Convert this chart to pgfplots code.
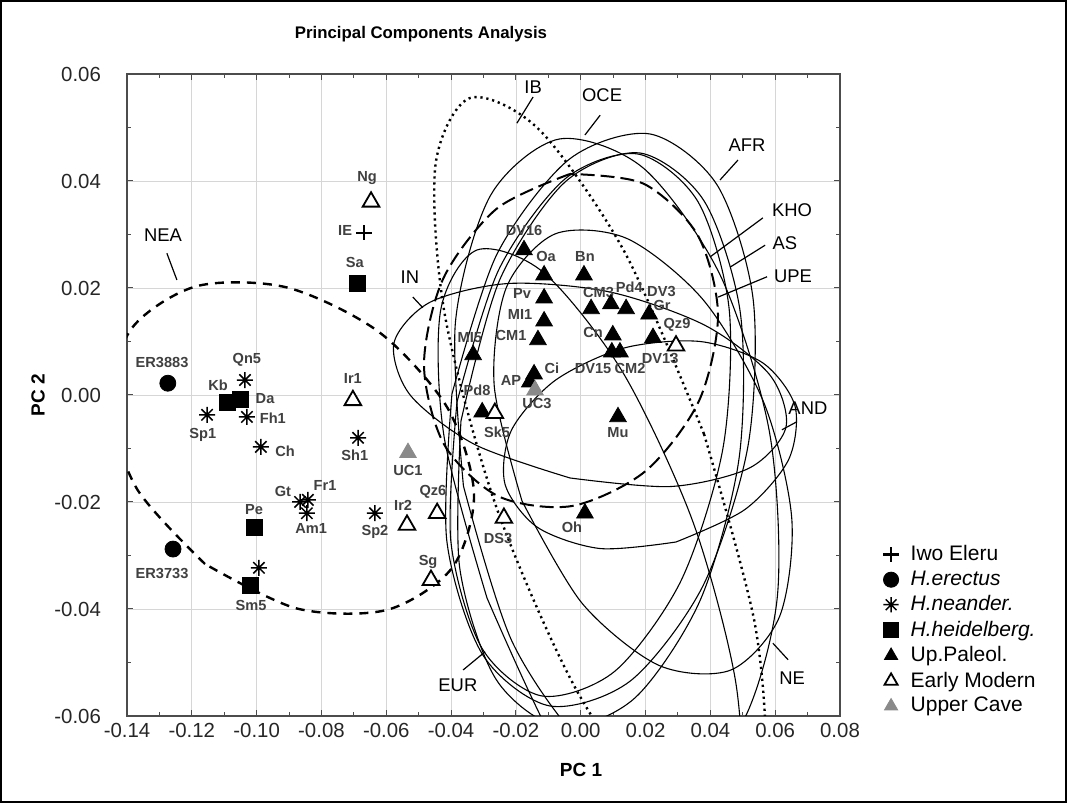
\documentclass[border=0pt]{standalone}
\usepackage{pgfplots}
\pgfplotsset{compat=1.18}
\usepackage{fontspec}
\setmainfont{Liberation Sans}
\definecolor{ucgray}{HTML}{8A8A8A}
\pgfdeclareplotmark{ast8}{%
  \pgfpathmoveto{\pgfqpoint{-\pgfplotmarksize}{0pt}}%
  \pgfpathlineto{\pgfqpoint{\pgfplotmarksize}{0pt}}%
  \pgfpathmoveto{\pgfqpoint{0pt}{-\pgfplotmarksize}}%
  \pgfpathlineto{\pgfqpoint{0pt}{\pgfplotmarksize}}%
  \pgfpathmoveto{\pgfqpoint{-.707\pgfplotmarksize}{-.707\pgfplotmarksize}}%
  \pgfpathlineto{\pgfqpoint{.707\pgfplotmarksize}{.707\pgfplotmarksize}}%
  \pgfpathmoveto{\pgfqpoint{-.707\pgfplotmarksize}{.707\pgfplotmarksize}}%
  \pgfpathlineto{\pgfqpoint{.707\pgfplotmarksize}{-.707\pgfplotmarksize}}%
  \pgfusepathqstroke}
\tikzset{
  ell/.style={black, line width=0.55pt, smooth, mark=none},
  lead/.style={black, line width=0.6pt, mark=none},
  lab/.style={font=\fontsize{7.3}{8}\selectfont\bfseries, text=black!75, inner sep=0.5pt},
  reg/.style={font=\fontsize{9.2}{10}\selectfont, inner sep=0.5pt},
}
\begin{document}
\begin{tikzpicture}
\draw[line width=1.1pt] (0.55pt,0.55pt) rectangle (532.95pt,400.95pt);
\begin{axis}[
  at={(63.5pt,43.5pt)}, anchor=south west,
  scale only axis, width=356.5pt, height=321pt,
  xmin=-0.14, xmax=0.08, ymin=-0.06, ymax=0.06,
  scaled ticks=false,
  xtick={-0.14,-0.12,-0.1,-0.08,-0.06,-0.04,-0.02,0,0.02,0.04,0.06,0.08},
  xticklabels={-0.14,-0.12,-0.10,-0.08,-0.06,-0.04,-0.02,0.00,0.02,0.04,0.06,0.08},
  ytick={-0.06,-0.04,-0.02,0,0.02,0.04,0.06},
  yticklabels={-0.06,-0.04,-0.02,0.00,0.02,0.04,0.06},
  minor x tick num=1, minor y tick num=1,
  tick align=inside, major tick length=3pt, minor tick length=2pt,
  tick style={black!70, line width=0.5pt},
  grid=major, major grid style={black!16, line width=0.4pt},
  axis line style={black!70, line width=0.7pt},
  ticklabel style={font=\fontsize{10.2}{12}\selectfont, text=black!85},
  yticklabel style={xshift=-9.5pt},
  legend style={at={(1.052,0.277)}, anchor=north west, draw=none, fill=none,
    font=\fontsize{10.5}{12}\selectfont, row sep=0.6pt, column sep=4.5pt, nodes={inner sep=1.5pt}},
  legend image post style={mark size=3.8pt},
  legend cell align=left,
]
% ---- ellipses ----
% IB (dotted)
\addplot[ell, forget plot, line width=1.2pt, dash pattern=on 1.1pt off 1.9pt] coordinates {(0.03803,-0.00729)(0.05379,-0.04296)(0.05673,-0.07086)(0.04605,-0.08355)(0.02463,-0.0776)(-0.00179,-0.05462)(-0.02615,-0.02075)(-0.04191,0.01492)(-0.04485,0.04282)(-0.03417,0.05551)(-0.01275,0.04956)(0.01367,0.02658)(0.03803,-0.00729)};
% UPE (long dash)
\addplot[ell, forget plot, line width=1pt, dash pattern=on 7pt off 3pt] coordinates {(-0.00331,0.04131)(-0.02595,0.03481)(-0.04243,0.02175)(-0.04836,0.00561)(-0.04213,-0.00927)(-0.02541,-0.01893)(-0.00269,-0.02075)(0.01995,-0.01425)(0.03643,-0.00119)(0.04236,0.01495)(0.03613,0.02983)(0.01941,0.03949)(-0.00331,0.04131)};
% NEA (dashed)
\addplot[ell, forget plot, line width=1.2pt, dash pattern=on 4.5pt off 3.5pt] coordinates {(-0.11593,-0.03159)(-0.13702,-0.01746)(-0.14526,-0.00133)(-0.13846,0.01252)(-0.11842,0.02035)(-0.09054,0.02008)(-0.06225,0.01177)(-0.04116,-0.00236)(-0.03292,-0.01849)(-0.03972,-0.03234)(-0.05976,-0.04017)(-0.08764,-0.0399)(-0.11593,-0.03159)};
% IN
\addplot[ell, forget plot] coordinates {(-0.00331,-0.01551)(-0.03272,-0.00925)(-0.05261,-0.00002)(-0.05762,0.00972)(-0.04643,0.01736)(-0.02204,0.02085)(0.00903,0.01925)(0.03844,0.01299)(0.05833,0.00376)(0.06334,-0.00598)(0.05215,-0.01362)(0.02776,-0.01711)(-0.00331,-0.01551)};
% AND
\addplot[ell, forget plot] coordinates {(0.02939,-0.02748)(0.00595,-0.0287)(-0.01336,-0.02473)(-0.02337,-0.01664)(-0.02138,-0.00659)(-0.00795,0.0027)(0.01335,0.00878)(0.03679,0.01)(0.0561,0.00603)(0.06611,-0.00206)(0.06412,-0.01211)(0.05069,-0.0214)(0.02939,-0.02748)};
% NE
\addplot[ell, forget plot] coordinates {(-0.01812,-0.01981)(-0.0267,0.0018)(-0.02297,0.02006)(-0.00794,0.0301)(0.01437,0.02922)(0.03796,0.01766)(0.05654,-0.00149)(0.06512,-0.0231)(0.06139,-0.04136)(0.04636,-0.0514)(0.02405,-0.05052)(0.00046,-0.03896)(-0.01812,-0.01981)};
% EUR
\addplot[ell, forget plot] coordinates {(-0.02892,-0.03794)(-0.0421,-0.00802)(-0.04323,0.01579)(-0.03201,0.0271)(-0.01145,0.02289)(0.01294,0.00428)(0.03464,-0.02374)(0.04782,-0.05366)(0.04895,-0.07747)(0.03773,-0.08878)(0.01717,-0.08457)(-0.00722,-0.06596)(-0.02892,-0.03794)};
% OCE
\addplot[ell, forget plot] coordinates {(-0.03619,-0.01701)(-0.03866,0.01358)(-0.02782,0.03731)(-0.00657,0.04785)(0.0194,0.04237)(0.0431,0.02232)(0.05823,-0.00691)(0.0607,-0.0375)(0.04986,-0.06123)(0.02861,-0.07177)(0.00264,-0.06629)(-0.02106,-0.04624)(-0.03619,-0.01701)};
% AFR
\addplot[ell, forget plot] coordinates {(-0.03973,0.00019)(-0.02589,0.02627)(-0.00354,0.04406)(0.02137,0.04879)(0.04214,0.0392)(0.05321,0.01785)(0.05161,-0.00953)(0.03777,-0.03561)(0.01542,-0.0534)(-0.00949,-0.05813)(-0.03026,-0.04854)(-0.04133,-0.02719)(-0.03973,0.00019)};
% KHO
\addplot[ell, forget plot] coordinates {(-0.03818,-0.00131)(-0.02527,0.02344)(-0.00483,0.0404)(0.01767,0.04504)(0.03621,0.0361)(0.04581,0.016)(0.0439,-0.00991)(0.03099,-0.03466)(0.01055,-0.05162)(-0.01195,-0.05626)(-0.03049,-0.04732)(-0.04009,-0.02722)(-0.03818,-0.00131)};
% AS
\addplot[ell, forget plot] coordinates {(-0.03695,-0.00486)(-0.02503,0.02148)(-0.00482,0.03982)(0.01828,0.04523)(0.03808,0.03626)(0.04925,0.01534)(0.04883,-0.01196)(0.03691,-0.0383)(0.0167,-0.05664)(-0.0064,-0.06205)(-0.0262,-0.05308)(-0.03737,-0.03216)(-0.03695,-0.00486)};
% ---- leader lines ----
\addplot[lead, forget plot] coordinates {(-0.0147,0.0557)(-0.0197,0.0508)};
\addplot[lead, forget plot] coordinates {(0.0060,0.0523)(0.0013,0.0486)};
\addplot[lead, forget plot] coordinates {(0.0485,0.0439)(0.0430,0.0402)};
\addplot[lead, forget plot] coordinates {(0.0562,0.0331)(0.0399,0.0258)};
\addplot[lead, forget plot] coordinates {(0.0569,0.0280)(0.0461,0.0239)};
\addplot[lead, forget plot] coordinates {(0.0575,0.0221)(0.0424,0.0183)};
\addplot[lead, forget plot] coordinates {(-0.0518,0.0183)(-0.0487,0.0163)};
\addplot[lead, forget plot] coordinates {(0.0667,-0.0050)(0.0621,-0.0065)};
\addplot[lead, forget plot] coordinates {(0.0640,-0.0495)(0.0593,-0.0464)};
\addplot[lead, forget plot] coordinates {(-0.0363,-0.0514)(-0.0295,-0.0480)};
\addplot[lead, forget plot] coordinates {(-0.1277,0.0265)(-0.1246,0.0215)};
% ---- specimens ----
\addplot[only marks, mark=+, mark size=3.8pt, mark options={line width=1.3pt}, black] coordinates {(-0.0669,0.0303)};
\addlegendentry{Iwo Eleru}
\addplot[only marks, mark=*, mark size=4pt, black] coordinates {(-0.1274,0.0022)(-0.1258,-0.0288)};
\addlegendentry{\textit{H.erectus}}
\addplot[only marks, mark=ast8, mark size=4pt, mark options={line width=0.75pt}, black] coordinates {(-0.1036,0.0028)(-0.1153,-0.0037)(-0.1030,-0.0041)(-0.0987,-0.0097)(-0.0687,-0.0080)(-0.0866,-0.0200)(-0.0842,-0.0196)(-0.0845,-0.0221)(-0.0635,-0.0221)(-0.0993,-0.0323)};
\addlegendentry{\textit{H.neander.}}
\addplot[only marks, mark=square*, mark size=4pt, black] coordinates {(-0.069,0.0209)(-0.109,-0.0013)(-0.105,-0.0008)(-0.1008,-0.0247)(-0.1020,-0.0355)};
\addlegendentry{\textit{H.heidelberg.}}
\addplot[only marks, mark=triangle*, mark size=4.8pt, black] coordinates {(-0.0175,0.0271)(-0.0113,0.0224)(0.0010,0.0224)(-0.0113,0.0181)(-0.0113,0.0138)(-0.0132,0.0103)(0.0032,0.0161)(0.0093,0.0170)(0.0140,0.0161)(0.0211,0.0151)(0.0223,0.0107)(0.0099,0.0112)(0.0096,0.0080)(0.0121,0.0080)(-0.0332,0.0075)(-0.0144,0.0039)(-0.0157,0.0024)(-0.0304,-0.0032)(0.0115,-0.0041)(0.0013,-0.0221)};
\addlegendentry{Up.Paleol.}
\addplot[only marks, mark=triangle*, mark size=4.8pt, mark options={fill=white, draw=black, line width=0.9pt}] coordinates {(-0.0647,0.0361)(-0.0703,-0.0010)(-0.0536,-0.0243)(-0.0443,-0.0221)(-0.0462,-0.0346)(-0.0265,-0.0034)(-0.0237,-0.0230)(0.0294,0.0092)};
\addlegendentry{Early Modern}
\addplot[only marks, mark=triangle*, mark size=4.8pt, ucgray] coordinates {(-0.0533,-0.0108)(-0.0141,0.0009)};
\addlegendentry{Upper Cave}
% ---- specimen labels ----
\node[lab] at (axis cs:-0.0659,0.0406) {Ng};
\node[lab] at (axis cs:-0.0727,0.0308) {IE};
\node[lab] at (axis cs:-0.0697,0.0247) {Sa};
\node[lab] at (axis cs:-0.1292,0.0060) {ER3883};
\node[lab] at (axis cs:-0.1030,0.0065) {Qn5};
\node[lab] at (axis cs:-0.1119,0.0019) {Kb};
\node[lab] at (axis cs:-0.0974,-0.0006) {Da};
\node[lab] at (axis cs:-0.0703,0.0030) {Ir1};
\node[lab] at (axis cs:-0.1166,-0.0075) {Sp1};
\node[lab] at (axis cs:-0.0950,-0.0043) {Fh1};
\node[lab] at (axis cs:-0.0912,-0.0105) {Ch};
\node[lab] at (axis cs:-0.0697,-0.0112) {Sh1};
\node[lab] at (axis cs:-0.0533,-0.0142) {UC1};
\node[lab] at (axis cs:-0.0919,-0.0181) {Gt};
\node[lab] at (axis cs:-0.0789,-0.0170) {Fr1};
\node[lab] at (axis cs:-0.0832,-0.0249) {Am1};
\node[lab] at (axis cs:-0.1008,-0.0215) {Pe};
\node[lab] at (axis cs:-0.0635,-0.0256) {Sp2};
\node[lab] at (axis cs:-0.0548,-0.0207) {Ir2};
\node[lab] at (axis cs:-0.0456,-0.0181) {Qz6};
\node[lab] at (axis cs:-0.0471,-0.0312) {Sg};
\node[lab] at (axis cs:-0.1292,-0.0333) {ER3733};
\node[lab] at (axis cs:-0.1017,-0.0393) {Sm5};
\node[lab] at (axis cs:-0.0175,0.0308) {DV16};
\node[lab] at (axis cs:-0.0107,0.0258) {Oa};
\node[lab] at (axis cs:0.0013,0.0258) {Bn};
\node[lab] at (axis cs:-0.0181,0.0189) {Pv};
\node[lab] at (axis cs:-0.0187,0.0150) {MI1};
\node[lab] at (axis cs:-0.0215,0.0112) {CM1};
\node[lab] at (axis cs:0.0055,0.0191) {CM3};
\node[lab] at (axis cs:0.0150,0.0202) {Pd4};
\node[lab] at (axis cs:0.0249,0.0193) {DV3};
\node[lab] at (axis cs:0.0251,0.0168) {Gr};
\node[lab] at (axis cs:0.0297,0.0131) {Qz9};
\node[lab] at (axis cs:0.0245,0.0069) {DV13};
\node[lab] at (axis cs:0.0038,0.0116) {Cn};
\node[lab] at (axis cs:0.0038,0.0050) {DV15};
\node[lab] at (axis cs:0.0152,0.0049) {CM2};
\node[lab] at (axis cs:-0.0342,0.0108) {MI5};
\node[lab] at (axis cs:-0.0089,0.0049) {Ci};
\node[lab] at (axis cs:-0.0215,0.0028) {AP};
\node[lab] at (axis cs:-0.0135,-0.0015) {UC3};
\node[lab] at (axis cs:-0.0320,0.0009) {Pd8};
\node[lab] at (axis cs:-0.0258,-0.0069) {Sk5};
\node[lab] at (axis cs:0.0115,-0.0071) {Mu};
\node[lab] at (axis cs:-0.0027,-0.0247) {Oh};
\node[lab] at (axis cs:-0.0255,-0.0269) {DS3};
% ---- region labels ----
\node[reg] at (axis cs:-0.0147,0.0576) {IB};
\node[reg] at (axis cs:0.0066,0.0561) {OCE};
\node[reg] at (axis cs:0.0513,0.0467) {AFR};
\node[reg] at (axis cs:0.0652,0.0346) {KHO};
\node[reg] at (axis cs:0.0630,0.0284) {AS};
\node[reg] at (axis cs:0.0655,0.0221) {UPE};
\node[reg] at (axis cs:-0.0527,0.0221) {IN};
\node[reg] at (axis cs:0.0701,-0.0024) {AND};
\node[reg] at (axis cs:0.0652,-0.0529) {NE};
\node[reg] at (axis cs:-0.0379,-0.0542) {EUR};
\node[reg] at (axis cs:-0.1289,0.0299) {NEA};
\end{axis}
\node[font=\fontsize{8.4}{10}\selectfont\bfseries] at (210.5pt,384.5pt) {Principal Components Analysis};
\node[font=\fontsize{9.5}{11}\selectfont\bfseries] at (290.5pt,16.5pt) {PC 1};
\node[font=\fontsize{9.5}{11}\selectfont\bfseries, rotate=90] at (19pt,204pt) {PC 2};
\end{tikzpicture}
\end{document}
